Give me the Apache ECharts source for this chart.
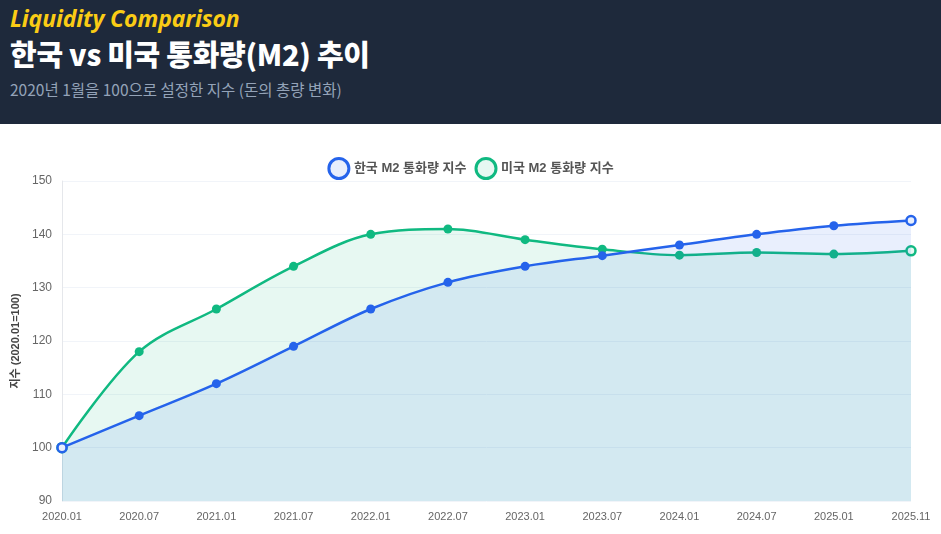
<!DOCTYPE html>
<html>
<head>
<meta charset="utf-8">
<script src="https://cdn.jsdelivr.net/npm/echarts@6/dist/echarts.min.js"></script>
<style>
  html, body { margin: 0; padding: 0; background: #ffffff; width: 941px; height: 534px; overflow: hidden; }
  #header { height: 124px; background: #1e293b; box-sizing: border-box; padding: 3px 10px 0 10px; font-family: "Noto Sans CJK KR", "Noto Sans", sans-serif; }
  #kicker { color: #facc15; font-weight: 700; font-style: italic; font-size: 23px; line-height: 30px; font-family: "Noto Sans", "Noto Sans CJK KR", sans-serif; letter-spacing: -0.1px; }
  #title { color: #ffffff; font-weight: 900; font-size: 29px; line-height: 40px; margin-top: 0px; letter-spacing: -0.3px; }
  #subtitle { color: #94a3b8; font-size: 15.5px; line-height: 22px; margin-top: 5px; }
  #chart { width: 941px; height: 410px; }
</style>
</head>
<body>
<div id="header">
  <div id="kicker">Liquidity Comparison</div>
  <div id="title">한국 vs 미국 통화량(M2) 추이</div>
  <div id="subtitle">2020년 1월을 100으로 설정한 지수 (돈의 총량 변화)</div>
</div>
<div id="chart"></div>
<script>
const categories = ['2020.01','2020.07','2021.01','2021.07','2022.01','2022.07','2023.01','2023.07','2024.01','2024.07','2025.01','2025.11'];
const koreaM2 = [100, 106, 112, 119, 126, 131, 134, 136, 138, 140, 141.6, 142.6];
const usM2 = [100, 118, 126, 134, 140, 141, 139, 137.2, 136.1, 136.6, 136.3, 136.9];
const seriesNames = ['한국 M2 통화량 지수', '미국 M2 통화량 지수'];
const yAxisName = '지수 (2020.01=100)';

const BLUE = '#2563eb', GREEN = '#10b981';
function pts(arr, color, fill) {
  return arr.map((v, i) => {
    const edge = (i === 0 || i === arr.length - 1);
    return edge ? { value: v, itemStyle: { color: fill, borderColor: color, borderWidth: 2.5 } } : v;
  });
}

const chart = echarts.init(document.getElementById('chart'), null, { renderer: 'canvas' });
chart.setOption({
  animation: false,
  legend: {
    top: 28,
    left: 'center',
    itemWidth: 20,
    itemHeight: 20,
    itemGap: 8,
    textStyle: { color: '#555', fontWeight: 'bold', fontSize: 13, fontFamily: '"Liberation Sans", "Noto Sans CJK KR", sans-serif' },
    data: [
      { name: seriesNames[0], icon: 'circle', itemStyle: { color: '#e8eefc', borderColor: BLUE, borderWidth: 3 } },
      { name: seriesNames[1], icon: 'circle', itemStyle: { color: '#e7f8f2', borderColor: GREEN, borderWidth: 3 } }
    ]
  },
  grid: { left: 62, right: 30, top: 57, bottom: 33 },
  xAxis: {
    type: 'category',
    data: categories,
    boundaryGap: false,
    axisLine: { show: false },
    axisTick: { show: false },
    splitLine: { show: false },
    axisLabel: { color: '#666', fontSize: 11, margin: 10, fontFamily: '"Liberation Sans Narrow", "Liberation Sans", sans-serif' }
  },
  yAxis: {
    type: 'value',
    min: 90, max: 150, interval: 10,
    name: yAxisName,
    nameLocation: 'middle',
    nameGap: 40,
    nameRotate: 90,
    nameTextStyle: { color: '#444', fontWeight: 'bold', fontSize: 11, fontFamily: '"Liberation Sans", "Noto Sans CJK KR", sans-serif' },
    axisLine: { show: true, lineStyle: { color: '#e5e7eb' } },
    axisTick: { show: false },
    splitLine: { show: true, lineStyle: { color: '#f1f4f9' } },
    axisLabel: { color: '#666', fontSize: 12, margin: 10, fontFamily: '"Liberation Sans Narrow", "Liberation Sans", sans-serif' }
  },
  series: [
    {
      name: seriesNames[1], type: 'line', data: pts(usM2, GREEN, '#e7f8f2'), smooth: 0.35, z: 2,
      symbol: 'circle', symbolSize: 9,
      lineStyle: { color: GREEN, width: 2.5 }, itemStyle: { color: GREEN },
      areaStyle: { origin: 'start', color: 'rgba(16,185,129,0.1)', opacity: 1 }
    },
    {
      name: seriesNames[0], type: 'line', data: pts(koreaM2, BLUE, '#e8eefc'), smooth: 0.35, z: 3,
      symbol: 'circle', symbolSize: 9,
      lineStyle: { color: BLUE, width: 2.5 }, itemStyle: { color: BLUE },
      areaStyle: { origin: 'start', color: 'rgba(37,99,235,0.1)', opacity: 1 }
    }
  ]
});
</script>
</body>
</html>
